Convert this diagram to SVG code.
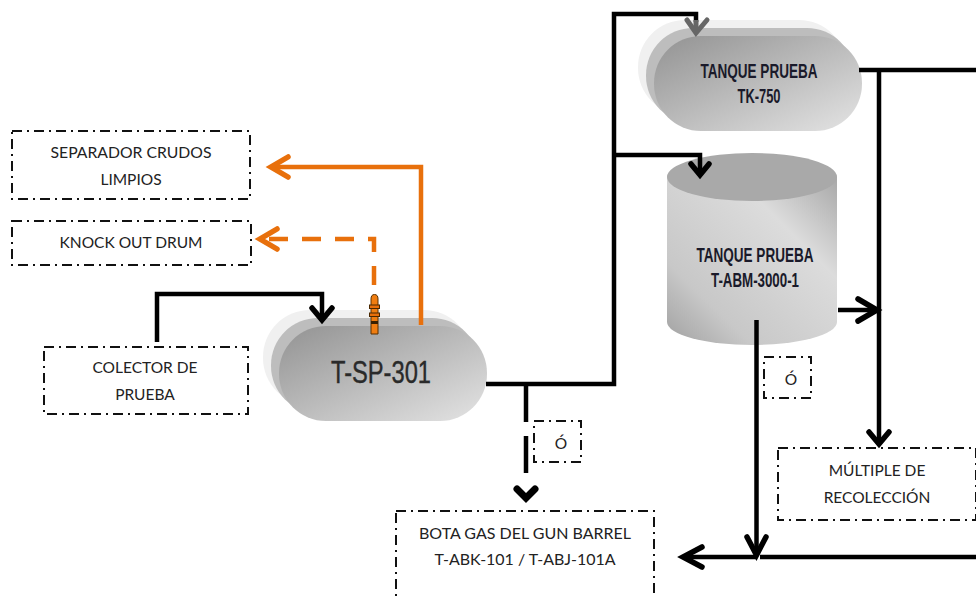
<svg xmlns="http://www.w3.org/2000/svg" width="976" height="596" viewBox="0 0 976 596">
<style>
.box{fill:none;stroke:#111;stroke-width:2;stroke-dasharray:10 5 2 5}
.t{font-family:Lato,"Open Sans","Liberation Sans",sans-serif;font-size:15.5px;fill:#222;text-anchor:middle}
.h{font-family:"Liberation Sans",Arial,sans-serif;font-weight:bold;font-size:21px;fill:#1a1a2a;text-anchor:middle}
.l{fill:none;stroke:#000;stroke-width:4.5}
.o{fill:none;stroke:#e8700c;stroke-width:4.5}
.hd{stroke-width:5.5;stroke-linecap:round;stroke-linejoin:miter}
.ring{fill:#e8700c;stroke:#4a2800;stroke-width:1}
</style>
<defs>
<linearGradient id="g" x1="0" y1="0" x2="1" y2="1"><stop offset="0" stop-color="#929292"/><stop offset="1" stop-color="#e4e4e4"/></linearGradient>
<linearGradient id="c" x1="0" y1="1" x2="1" y2="0"><stop offset="0" stop-color="#a0a0a0"/><stop offset="0.25" stop-color="#c8c8c8"/><stop offset="0.7" stop-color="#dcdcdc"/><stop offset="1" stop-color="#a8a8a8"/></linearGradient>
</defs>
<g id="t-sp-301">
<rect x="263" y="310" width="208" height="95" rx="47" fill="#f0f0f0"/>
<rect x="271" y="318" width="208" height="95" rx="47" fill="#bdbdbd"/>
<rect x="279" y="326" width="208" height="95" rx="47" fill="url(#g)"/>
<text x="381" y="383" style="font-family:'Liberation Sans',sans-serif;font-size:32px;fill:#2a2a2a;stroke:#2a2a2a;stroke-width:.4;text-anchor:middle" textLength="100" lengthAdjust="spacingAndGlyphs">T-SP-301</text>
</g>
<g id="tk-750">
<rect x="638" y="20" width="208" height="95" rx="47" fill="#f0f0f0"/>
<rect x="646" y="28" width="208" height="95" rx="47" fill="#bdbdbd"/>
<rect x="654" y="36" width="208" height="95" rx="47" fill="url(#g)"/>
<text class="h" x="759" y="78" textLength="117" lengthAdjust="spacingAndGlyphs">TANQUE PRUEBA</text>
<text class="h" x="759" y="103" textLength="43" lengthAdjust="spacingAndGlyphs">TK-750</text>
</g>
<g id="t-abm-3000-1">
<path d="M667 177V322A85 23 0 0 0 837 322V177Z" fill="url(#c)"/>
<ellipse cx="752" cy="177" rx="85" ry="24" fill="#a9a9a9"/>
<text class="h" x="755" y="262" textLength="117" lengthAdjust="spacingAndGlyphs">TANQUE PRUEBA</text>
<text class="h" x="755" y="287" textLength="88" lengthAdjust="spacingAndGlyphs">T-ABM-3000-1</text>
</g>
<g id="separador"><rect class="box" x="12" y="131" width="238" height="68"/><text class="t" x="131" y="158" textLength="161" lengthAdjust="spacingAndGlyphs">SEPARADOR CRUDOS</text><text class="t" x="131" y="185">LIMPIOS</text></g>
<g id="knock-out"><rect class="box" x="12" y="221" width="239" height="44"/><text class="t" x="131" y="248" textLength="143" lengthAdjust="spacingAndGlyphs">KNOCK OUT DRUM</text></g>
<g id="colector"><rect class="box" x="44" y="347" width="204" height="67"/><text class="t" x="145" y="373">COLECTOR DE</text><text class="t" x="145" y="400">PRUEBA</text></g>
<g id="bota"><rect class="box" x="396" y="511" width="258" height="100"/><text class="t" x="525" y="539" textLength="212" lengthAdjust="spacingAndGlyphs">BOTA GAS DEL GUN BARREL</text><text class="t" x="525" y="565" textLength="181" lengthAdjust="spacingAndGlyphs">T-ABK-101 / T-ABJ-101A</text></g>
<g id="multiple"><rect class="box" x="778" y="448" width="198" height="72"/><text class="t" x="877" y="476">MÚLTIPLE DE</text><text class="t" x="877" y="503">RECOLECCIÓN</text></g>
<g id="o1"><rect class="box" x="534" y="421" width="47" height="41"/><text class="t" x="561" y="449">Ó</text></g>
<g id="o2"><rect class="box" x="764" y="357" width="47" height="41"/><text class="t" x="791" y="385">Ó</text></g>
<g id="connectors">
<path class="l" d="M157 342V294H322V318"/>
<path class="l hd" d="M312 308L322 320L332 308"/>
<path class="o" d="M421 325V167H272"/>
<path class="o hd" d="M288 157L271 167L288 177"/>
<path class="o" d="M374 285V239H260" stroke-dasharray="19 14"/>
<path class="o hd" d="M277 229L260 239L277 249"/>
<path d="M371 334V299Q371 294.500 374.500 294.500Q378 294.500 378 299V334Z" fill="#f07d10" stroke="#5a3000" stroke-width="1"/>
<rect class="ring" x="369.500" y="305" width="10" height="3.500"/>
<rect class="ring" x="369.500" y="313" width="10" height="3.500"/>
<path d="M371 322.500h7" stroke="#3a2000" stroke-width="3"/>
<path class="l" d="M486 384H614V14H696V22"/>
<path class="l" d="M614 155H700V172"/>
<path class="l hd" d="M691 164L700 175L709 164"/>
<path d="M687 20L696 33L707 20" fill="none" stroke="#666" stroke-width="5" stroke-linecap="round"/>
<path d="M696 20V33" stroke="#666" stroke-width="5"/>
<path class="l" d="M526 384V422M526 436V473"/>
<path class="l hd" d="M517 489L526 498L535 489" style="stroke-width:7"/>
<path class="l" d="M859 70H976"/>
<path class="l" d="M879 70V441"/>
<path class="l hd" d="M869 432L879 444L889 432"/>
<path class="l" d="M838 310H876"/>
<path class="l hd" d="M858 299L877 310L858 321"/>
<path class="l" d="M756.500 320V553"/>
<path class="l hd" d="M747 537L756.500 555L766 537"/>
<path class="l" d="M683 557H757M760 557H976"/>
<path class="l hd" d="M702 547L683 557L702 567"/>
</g>
</svg>
